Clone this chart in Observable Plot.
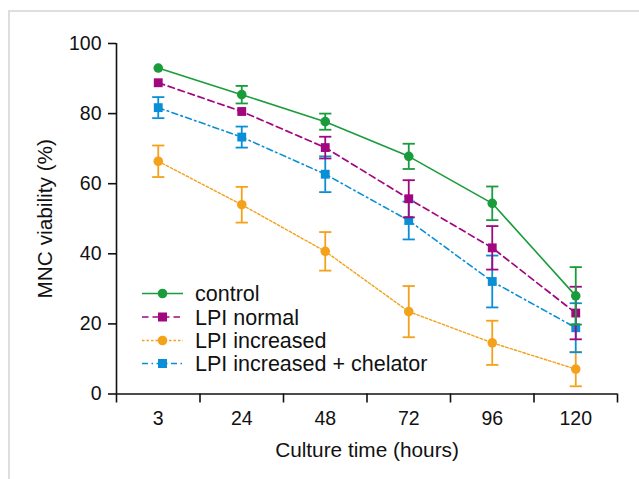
<!DOCTYPE html>
<html>
<head>
<meta charset="utf-8">
<script src="https://cdn.jsdelivr.net/npm/d3@7"></script>
<script src="https://cdn.jsdelivr.net/npm/@observablehq/plot@0.6"></script>
<style>
  html, body { margin: 0; padding: 0; background: #fff; overflow: hidden; }
  #wrap { position: relative; width: 639px; height: 479px; overflow: hidden; }
  #frame { position: absolute; left: 8px; top: 10px; width: 700px; height: 600px;
           border: 2.5px solid #dedede; box-sizing: border-box; }
  #chart, #legend { position: absolute; left: 0; top: 0; }
</style>
</head>
<body>
<div id="wrap">
  <div id="frame"></div>
  <div id="chart"></div>
  <svg id="legend" width="639" height="479"></svg>
</div>
<script>
// ---- data ----
const times = ["3", "24", "48", "72", "96", "120"];
const seriesNames = ["control", "LPI normal", "LPI increased", "LPI increased + chelator"];
const control      = [93.0, 85.4, 77.7, 67.8, 54.4, 28.0];
const controlErr   = [0, 2.5, 2.3, 3.6, 4.8, 8.2];
const lpiNormal    = [88.8, 80.6, 70.3, 55.7, 41.7, 23.1];
const lpiNormalErr = [0, 0, 3.1, 5.3, 6.2, 7.5];
const lpiInc       = [66.4, 54.0, 40.7, 23.5, 14.6, 7.1];
const lpiIncErr    = [4.5, 5.1, 5.5, 7.3, 6.3, 4.9];
const chelator     = [81.7, 73.3, 62.7, 49.5, 32.1, 18.9];
const chelatorErr  = [3.0, 3.0, 5.1, 5.4, 7.4, 7.0];
const yTicks = [0, 20, 40, 60, 80, 100];

// ---- styles ----
const styles = {
  "control":                  {color: "#1a9c3c", dash: null,          symbol: "circle", width: 1.6},
  "LPI normal":               {color: "#a1077f", dash: "6.5,4",       symbol: "square", width: 1.7},
  "LPI increased":            {color: "#f4a11c", dash: "2.5,2",       symbol: "circle", width: 1.4},
  "LPI increased + chelator": {color: "#0a8fd6", dash: "6,3.5,1.5,3.5", symbol: "square", width: 1.6}
};

const valuesBy = {
  "control": [control, controlErr],
  "LPI normal": [lpiNormal, lpiNormalErr],
  "LPI increased": [lpiInc, lpiIncErr],
  "LPI increased + chelator": [chelator, chelatorErr]
};

function rows(name) {
  const [v, e] = valuesBy[name];
  return times.map((t, i) => ({series: name, time: t, pos: i + 0.5, value: v[i], err: e[i], lo: v[i] - e[i], hi: v[i] + e[i]}));
}

// horizontal cap symbol for error bars
const capSymbol = {
  draw(ctx, size) {
    const w = Math.sqrt(size) / 2;
    ctx.moveTo(-w, 0); ctx.lineTo(w, 0);
  }
};

const drawOrder = ["LPI increased", "LPI increased + chelator", "LPI normal", "control"];
const marks = [];
for (const name of drawOrder) {
  const d = rows(name);
  const s = styles[name];
  marks.push(Plot.line(d, {x: "pos", y: "value", stroke: s.color, strokeWidth: s.width, strokeDasharray: s.dash}));
}
for (const name of drawOrder) {
  const d = rows(name);
  const eb = d.filter((r) => r.err > 0);
  const s = styles[name];
  marks.push(Plot.ruleX(eb, {x: "pos", y1: "lo", y2: "hi", stroke: s.color, strokeWidth: 1.8}));
  marks.push(Plot.dot(eb, {x: "pos", y: "lo", symbol: capSymbol, r: 6.9, stroke: s.color, strokeWidth: 1.8, fill: "none"}));
  marks.push(Plot.dot(eb, {x: "pos", y: "hi", symbol: capSymbol, r: 6.9, stroke: s.color, strokeWidth: 1.8, fill: "none"}));
  marks.push(Plot.dot(d, {x: "pos", y: "value", symbol: s.symbol, r: s.symbol === "circle" ? 4.8 : 5.0, fill: s.color, stroke: "none"}));
}

const chart = Plot.plot({
  width: 639,
  height: 479,
  marginLeft: 116,
  marginRight: 22,
  marginTop: 43,
  marginBottom: 85.5,
  x: {type: "linear", domain: [0, times.length], axis: null},
  y: {domain: [0, 100], axis: null},
  style: {fontFamily: "'Liberation Sans', Arial, sans-serif", color: "#111", background: "transparent"},
  marks: [
    Plot.axisY({ticks: yTicks, tickSize: 8, tickPadding: 7, fontSize: 19.5, label: null, strokeWidth: 1.6}),
    Plot.axisX({ticks: d3.range(times.length + 1), tickFormat: () => "", tickSize: 9, label: null, strokeWidth: 1.6}),
    Plot.axisX({ticks: times.map((t, i) => i + 0.5), tickFormat: (p) => times[Math.round(p - 0.5)], tickSize: 0, tickPadding: 17, fontSize: 19.5, label: null}),
    Plot.ruleX([0], {y1: 0, y2: 100, stroke: "#111", strokeWidth: 1.6}),
    Plot.ruleY([0], {x1: 0, x2: times.length, stroke: "#111", strokeWidth: 1.6}),
    Plot.text(["Culture time (hours)"], {frameAnchor: "bottom", dy: 48, lineAnchor: "top", fontSize: 20.8, fill: "#111"}),
    Plot.text(["MNC viability (%)"], {frameAnchor: "left", dx: -71, rotate: -90, lineAnchor: "middle", textAnchor: "middle", fontSize: 20.8, fill: "#111"}),
    ...marks
  ]
});
document.getElementById("chart").appendChild(chart);

// ---- legend ----
const legend = d3.select("#legend");
const legendX0 = 142, legendX1 = 183, legendMarkX = 162.5, legendTextX = 195;
const legendY = [293.5, 317, 340.5, 363.5];
seriesNames.forEach((name, i) => {
  const s = styles[name];
  const g = legend.append("g").attr("transform", `translate(0,${legendY[i]})`);
  g.append("line").attr("x1", legendX0).attr("x2", legendX1).attr("y1", 0).attr("y2", 0)
    .attr("stroke", s.color).attr("stroke-width", s.width).attr("stroke-dasharray", s.dash);
  if (s.symbol === "circle") {
    g.append("circle").attr("cx", legendMarkX).attr("cy", 0).attr("r", 4.8).attr("fill", s.color);
  } else {
    g.append("rect").attr("x", legendMarkX - 4.5).attr("y", -4.5).attr("width", 9).attr("height", 9).attr("fill", s.color);
  }
  g.append("text").attr("x", legendTextX).attr("y", 0).attr("dy", "0.35em")
    .attr("font-family", "'Liberation Sans', Arial, sans-serif").attr("font-size", 21.5)
    .attr("fill", "#111").text(name);
});
</script>
</body>
</html>
